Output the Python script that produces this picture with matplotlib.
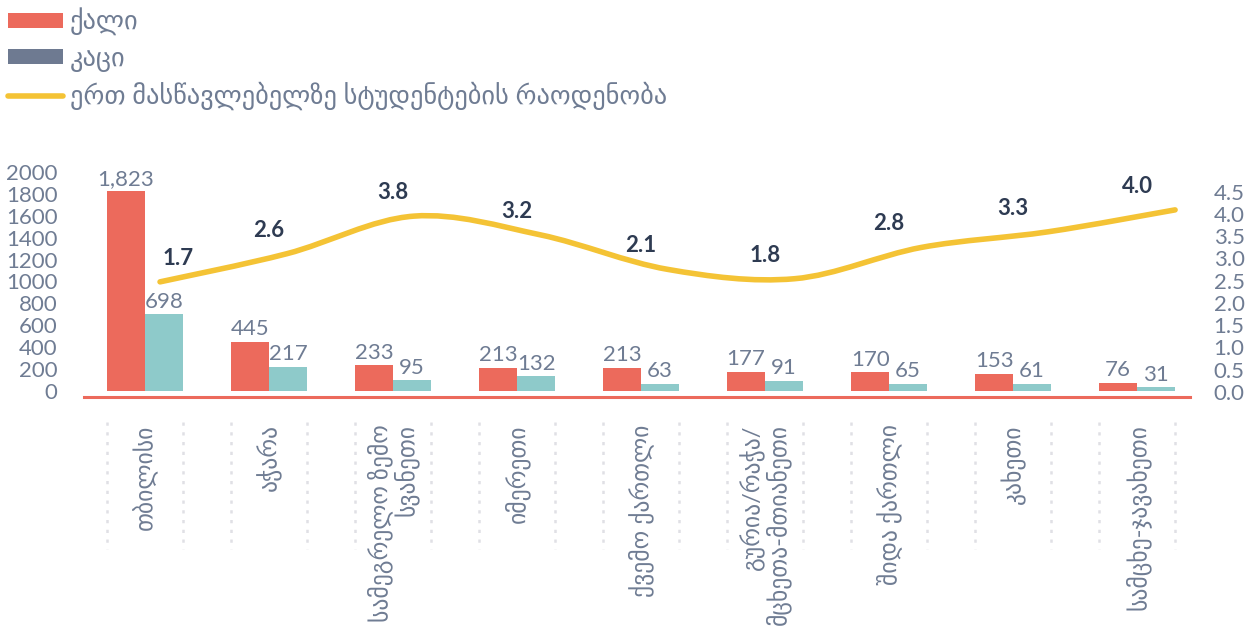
import matplotlib
matplotlib.use('Agg')
import matplotlib.pyplot as plt
import numpy as np
from matplotlib.patches import Patch, PathPatch
from matplotlib.lines import Line2D
from matplotlib.path import Path
from matplotlib.transforms import blended_transform_factory

plt.rcParams['font.family'] = ['Lato', 'DejaVu Sans']

regions = ['თბილისი', 'აჭარა', 'სამეგრელო ზემო\nსვანეთი', 'იმერეთი', 'ქვემო ქართლი',
           'გურია/რაჭა/\nმცხეთა-მთიანეთი', 'შიდა ქართლი', 'კახეთი', 'სამცხე-ჯავახეთი']
women = [1823, 445, 233, 213, 213, 177, 170, 153, 76]
men = [698, 217, 95, 132, 63, 91, 65, 61, 31]
ratio = [1.7, 2.6, 3.8, 3.2, 2.1, 1.8, 2.8, 3.3, 4.0]
legend_labels = ['ქალი', 'კაცი', 'ერთ მასწავლებელზე სტუდენტების რაოდენობა']

red = '#ec6a5c'
teal = '#8ecaca'
slate = '#6e7a91'
yellow = '#f4c335'
grey_txt = '#6f7c93'
dark_txt = '#2e3b52'

fig = plt.figure(figsize=(12.56, 6.4), dpi=100)
pos = [0.0669, 0.379, 0.8806, 0.354]
ax = fig.add_axes(pos)
x = np.arange(len(regions))
w = 0.306

ax.bar(x - w / 2, women, w, color=red)
ax.bar(x + w / 2, men, w, color=teal)
for i in x:
    ax.text(i - w / 2, women[i] + 25, f'{women[i]:,}', ha='center', va='bottom',
            fontsize=16, color=grey_txt)
    ax.text(i + w / 2, men[i] + 25, f'{men[i]:,}', ha='center', va='bottom',
            fontsize=16, color=grey_txt)

ax.set_xlim(-0.492, 8.427)
ax.set_ylim(-60, 2010)
ax.set_yticks(range(0, 2001, 200))
ax.set_xticks([])
ax.tick_params(axis='y', length=0, pad=19, labelsize=16, labelcolor=grey_txt)
for s in ['top', 'left', 'right']:
    ax.spines[s].set_visible(False)
ax.spines['bottom'].set_color(red)
ax.spines['bottom'].set_linewidth(2.2)

# category labels and dotted separators below the axis
below = blended_transform_factory(ax.transData, ax.transAxes)
for i in x:
    ax.text(i, -0.118, regions[i], transform=below,
            rotation=90, ha='center', va='top', multialignment='right',
            fontsize=17, color=grey_txt, linespacing=1.0)
    for xe in (i - w, i + w):
        ax.plot([xe, xe], [-0.11, -0.67], transform=below,
                clip_on=False, color='#e0e0e5', lw=1.8, linestyle=(0, (1.3, 2.6)))

# right axis
ax2 = ax.twinx()
ax2.set_ylim(-0.126, 4.97)
ticks2 = np.arange(0, 4.51, 0.5)
ax2.set_yticks(ticks2)
ax2.set_yticklabels([f'{v:.1f}' for v in ticks2])
ax2.tick_params(axis='y', length=0, pad=17, labelsize=16, labelcolor=grey_txt)
for s in ax2.spines.values():
    s.set_visible(False)

# smooth line on its own axes
ax3 = fig.add_axes(pos)
ax3.set_xlim(-0.599, 8.118)
ax3.set_ylim(-1.993, 5.246)
ax3.axis('off')
ax3.patch.set_alpha(0)
pts = np.column_stack([np.arange(len(ratio)), ratio])
verts = [pts[0]]
codes = [Path.MOVETO]
n = len(pts)
for k in range(n - 1):
    p0 = pts[max(k - 1, 0)]
    p1 = pts[k]
    p2 = pts[k + 1]
    p3 = pts[min(k + 2, n - 1)]
    verts += [p1 + (p2 - p0) / 6, p2 - (p3 - p1) / 6, p2]
    codes += [Path.CURVE4] * 3
ax3.add_patch(PathPatch(Path(verts, codes), facecolor='none', edgecolor=yellow,
                        lw=4, capstyle='round'))

blend = blended_transform_factory(ax.transData, ax3.transData)
for i in x:
    dx = 24 if i == 0 else 0  # first label sits clear of the tall bar
    ax.annotate(f'{ratio[i]:.1f}', xy=(i, ratio[i]), xycoords=blend,
                xytext=(dx, 17), textcoords='offset points', ha='center', va='center',
                fontsize=16, fontweight='bold', color=dark_txt)

handles = [Patch(facecolor=red), Patch(facecolor=slate),
           Line2D([], [], color=yellow, lw=4, solid_capstyle='round')]
fig.legend(handles, legend_labels, loc='upper left', bbox_to_anchor=(0.0, 1.0),
           frameon=False, fontsize=19, labelcolor=grey_txt, handlelength=2.1,
           handleheight=0.5, handletextpad=0.25, labelspacing=0.38, borderaxespad=0.1,
           borderpad=0.2)

fig.savefig('out.png', dpi=100)
